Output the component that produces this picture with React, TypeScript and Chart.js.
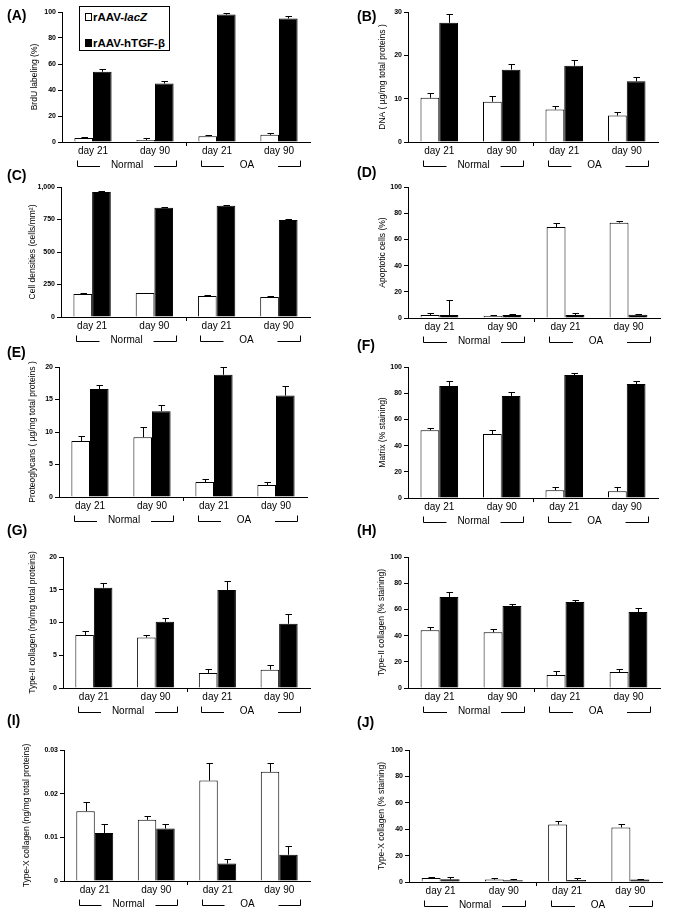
import React, { useEffect, useRef } from 'react';
import { Chart, registerables } from 'chart.js';

Chart.register(...registerables);

const FONT = '"Liberation Sans", Arial, Helvetica, sans-serif';

const categories = ['day 21', 'day 90', 'day 21', 'day 90'];
const groups = ['Normal', 'OA'];
const seriesNames = ['rAAV-lacZ', 'rAAV-hTGF-β'];

// (A) BrdU labeling (%)
const brduLacZ = [3, 1.5, 4.5, 5.5];
const brduLacZErr = [1, 1.5, 1, 1.8];
const brduTGF = [54, 45, 98, 95];
const brduTGFErr = [2, 2, 1.5, 2];

// (B) DNA (µg/mg total proteins)
const dnaLacZ = [10.2, 9.3, 7.5, 6.1];
const dnaLacZErr = [1, 1.4, 0.9, 0.9];
const dnaTGF = [27.5, 16.7, 17.6, 14.0];
const dnaTGFErr = [2, 1.4, 1.4, 0.9];

// (C) Cell densities (cells/mm2)
const cellLacZ = [177, 185, 162, 154];
const cellLacZErr = [8, 2, 7, 7];
const cellTGF = [962, 841, 856, 746];
const cellTGFErr = [5, 5, 6, 6];

// (D) Apoptotic cells (%)
const apoLacZ = [2.3, 1.5, 69.5, 72.8];
const apoLacZErr = [1.5, 0.5, 3.3, 1.5];
const apoTGF = [2.3, 2.3, 2.3, 2.5];
const apoTGFErr = [11.7, 0.5, 1.5, 0.6];

// (E) Proteoglycans (µg/mg total proteins)
const pgLacZ = [8.6, 9.2, 2.3, 1.85];
const pgLacZErr = [0.8, 1.5, 0.5, 0.45];
const pgTGF = [16.6, 13.2, 18.8, 15.6];
const pgTGFErr = [0.6, 0.9, 1.2, 1.5];

// (F) Matrix (% staining)
const matLacZ = [51.7, 48.9, 5.9, 5.1];
const matLacZErr = [1.7, 3.3, 2.5, 3.3];
const matTGF = [85.5, 77.9, 93.9, 87];
const matTGFErr = [3.8, 3, 1.5, 2.3];

// (G) Type-II collagen (ng/mg total proteins)
const col2ngLacZ = [8.1, 7.7, 2.3, 2.8];
const col2ngLacZErr = [0.6, 0.45, 0.6, 0.66];
const col2ngTGF = [15.3, 10.1, 14.96, 9.8];
const col2ngTGFErr = [0.8, 0.65, 1.3, 1.5];

// (H) Type-II collagen (% staining)
const col2pLacZ = [44, 42.5, 9.9, 12.2];
const col2pLacZErr = [2.5, 2.5, 3, 2.5];
const col2pTGF = [69.5, 62.6, 65.6, 58];
const col2pTGFErr = [3.8, 1.5, 1.5, 3.3];

// (I) Type-X collagen (ng/mg total proteins)
const col10ngLacZ = [0.016, 0.014, 0.023, 0.025];
const col10ngLacZErr = [0.002, 0.001, 0.004, 0.002];
const col10ngTGF = [0.011, 0.012, 0.004, 0.006];
const col10ngTGFErr = [0.002, 0.001, 0.001, 0.002];

// (J) Type-X collagen (% staining)
const col10pLacZ = [3, 1.8, 43.5, 41.3];
const col10pLacZErr = [0.8, 1.5, 3, 2.3];
const col10pTGF = [2, 1.3, 1.5, 1.8];
const col10pTGFErr = [1.8, 0.7, 1.8, 0.7];

type PanelDef = {
  label: string;
  title: string;
  max: number;
  step: number;
  lacZ: number[];
  lacZErr: number[];
  tgf: number[];
  tgfErr: number[];
  // layout
  colX: number;
  colW: number;
  axisX: number;
  topY: number;
  zeroY: number;
  rightX: number;
  titleX: number;
  labelX: number;
  labelY: number;
};

const panels: PanelDef[] = [
  { label: '(A)', title: 'BrdU labeling (%)', max: 100, step: 20, lacZ: brduLacZ, lacZErr: brduLacZErr, tgf: brduTGF, tgfErr: brduTGFErr,
    colX: 0, colW: 340, axisX: 62, topY: 12, zeroY: 142, rightX: 310, titleX: 35, labelX: 7, labelY: 15 },
  { label: '(B)', title: 'DNA ( µg/mg total proteins )', max: 30, step: 10, lacZ: dnaLacZ, lacZErr: dnaLacZErr, tgf: dnaTGF, tgfErr: dnaTGFErr,
    colX: 340, colW: 333, axisX: 408, topY: 12, zeroY: 142, rightX: 658, titleX: 383, labelX: 357, labelY: 16 },
  { label: '(C)', title: 'Cell densities (cells/mm²)', max: 1000, step: 250, lacZ: cellLacZ, lacZErr: cellLacZErr, tgf: cellTGF, tgfErr: cellTGFErr,
    colX: 0, colW: 340, axisX: 61, topY: 187, zeroY: 317, rightX: 310, titleX: 33, labelX: 7, labelY: 175 },
  { label: '(D)', title: 'Apoptotic cells (%)', max: 100, step: 20, lacZ: apoLacZ, lacZErr: apoLacZErr, tgf: apoTGF, tgfErr: apoTGFErr,
    colX: 340, colW: 333, axisX: 408, topY: 187, zeroY: 318, rightX: 660, titleX: 383, labelX: 357, labelY: 172 },
  { label: '(E)', title: 'Proteoglycans ( µg/mg total proteins )', max: 20, step: 5, lacZ: pgLacZ, lacZErr: pgLacZErr, tgf: pgTGF, tgfErr: pgTGFErr,
    colX: 0, colW: 340, axisX: 59, topY: 367, zeroY: 497, rightX: 307, titleX: 33, labelX: 7, labelY: 352 },
  { label: '(F)', title: 'Matrix (% staining)', max: 100, step: 20, lacZ: matLacZ, lacZErr: matLacZErr, tgf: matTGF, tgfErr: matTGFErr,
    colX: 340, colW: 333, axisX: 408, topY: 367, zeroY: 498, rightX: 658, titleX: 383, labelX: 357, labelY: 345 },
  { label: '(G)', title: 'Type-II collagen (ng/mg total proteins)', max: 20, step: 5, lacZ: col2ngLacZ, lacZErr: col2ngLacZErr, tgf: col2ngTGF, tgfErr: col2ngTGFErr,
    colX: 0, colW: 340, axisX: 63, topY: 557, zeroY: 688, rightX: 310, titleX: 33, labelX: 7, labelY: 530 },
  { label: '(H)', title: 'Type-II collagen (% staining)', max: 100, step: 20, lacZ: col2pLacZ, lacZErr: col2pLacZErr, tgf: col2pTGF, tgfErr: col2pTGFErr,
    colX: 340, colW: 333, axisX: 408, topY: 557, zeroY: 688, rightX: 660, titleX: 382, labelX: 357, labelY: 530 },
  { label: '(I)', title: 'Type-X collagen (ng/mg total proteins)', max: 0.03, step: 0.01, lacZ: col10ngLacZ, lacZErr: col10ngLacZErr, tgf: col10ngTGF, tgfErr: col10ngTGFErr,
    colX: 0, colW: 340, axisX: 64, topY: 750, zeroY: 881, rightX: 310, titleX: 27, labelX: 7, labelY: 720 },
  { label: '(J)', title: 'Type-X collagen (% staining)', max: 100, step: 20, lacZ: col10pLacZ, lacZErr: col10pLacZErr, tgf: col10pTGF, tgfErr: col10pTGFErr,
    colX: 340, colW: 333, axisX: 409, topY: 750, zeroY: 882, rightX: 662, titleX: 382, labelX: 357, labelY: 722 },
];

const TOP_PAD = 10;
const BOTTOM_H = 32;

const errorBarPlugin = {
  id: 'errorBars',
  afterDatasetsDraw(chart: any) {
    const { ctx } = chart;
    const yScale = chart.scales.y;
    chart.data.datasets.forEach((ds: any, di: number) => {
      const meta = chart.getDatasetMeta(di);
      meta.data.forEach((bar: any, i: number) => {
        const v = ds.data[i];
        const e = ds.errors ? ds.errors[i] : 0;
        if (!e) return;
        const yTop = Math.round(yScale.getPixelForValue(v + e)) + 0.5;
        const x = Math.round(bar.x) + 0.5;
        ctx.save();
        ctx.strokeStyle = '#000';
        ctx.lineWidth = 1;
        ctx.beginPath();
        ctx.moveTo(x, bar.y);
        ctx.lineTo(x, yTop);
        ctx.moveTo(x - 3, yTop);
        ctx.lineTo(x + 3.5, yTop);
        ctx.stroke();
        ctx.restore();
      });
    });
  },
};

const bracketPlugin = {
  id: 'groupBrackets',
  afterDraw(chart: any) {
    const { ctx, chartArea } = chart;
    const xs = chart.scales.x;
    const px = (i: number) => xs.getPixelForValue(i);
    const cw = px(1) - px(0);
    const b = chartArea.bottom;
    ctx.save();
    ctx.strokeStyle = '#000';
    ctx.lineWidth = 1;
    // single tick between the two groups
    const mid = Math.round((px(1) + px(2)) / 2) + 0.5;
    ctx.beginPath();
    ctx.moveTo(mid, b);
    ctx.lineTo(mid, b + 4);
    ctx.stroke();
    const yTop = Math.round(b + 18) + 0.5;
    const yLine = Math.round(b + 24) + 0.5;
    ctx.font = `10px ${FONT}`;
    ctx.fillStyle = '#000';
    ctx.textAlign = 'center';
    ctx.textBaseline = 'middle';
    groups.forEach((g, gi) => {
      const l = Math.round(px(gi * 2) - 0.26 * cw) + 0.5;
      const r = Math.round(px(gi * 2 + 1) + 0.34 * cw) + 0.5;
      const c = (l + r) / 2;
      const gap = 27;
      ctx.beginPath();
      ctx.moveTo(l, yTop);
      ctx.lineTo(l, yLine);
      ctx.lineTo(c - gap, yLine);
      ctx.moveTo(c + gap, yLine);
      ctx.lineTo(r, yLine);
      ctx.lineTo(r, yTop);
      ctx.stroke();
      ctx.fillText(g, c - (gi === 1 ? 4 : 0), yLine - 1);
    });
    ctx.restore();
  },
};

function formatTick(v: number | string) {
  const n = Number(v);
  return n.toLocaleString('en-US', { maximumFractionDigits: 3 });
}

function Panel({ p }: { p: PanelDef }) {
  const ref = useRef<HTMLCanvasElement>(null);
  const width = p.colW;
  const height = p.zeroY - p.topY + TOP_PAD + BOTTOM_H;
  useEffect(() => {
    if (!ref.current) return;
    const chart = new Chart(ref.current, {
      type: 'bar',
      data: {
        labels: categories,
        datasets: [
          {
            label: seriesNames[0],
            data: p.lacZ,
            errors: p.lacZErr,
            backgroundColor: '#ffffff',
            borderColor: '#000000',
            borderWidth: 1,
          } as any,
          {
            label: seriesNames[1],
            data: p.tgf,
            errors: p.tgfErr,
            backgroundColor: '#000000',
            borderColor: '#000000',
            borderWidth: 1,
          } as any,
        ],
      },
      options: {
        animation: false,
        responsive: false,
        devicePixelRatio: 1,
        layout: {
          padding: { left: 0, top: TOP_PAD, right: p.colX + width - p.rightX, bottom: 0 },
        },
        datasets: { bar: { categoryPercentage: 0.6, barPercentage: 1 } },
        plugins: {
          legend: { display: false },
          tooltip: { enabled: false },
        },
        scales: {
          x: {
            grid: { display: false, drawTicks: false },
            border: { display: true, color: '#000', width: 1 },
            ticks: { color: '#000', font: { family: FONT, size: 10 }, padding: 3, maxRotation: 0, autoSkip: false },
            afterFit: (s: any) => { s.height = BOTTOM_H; },
          },
          y: {
            min: 0,
            max: p.max,
            ticks: {
              stepSize: p.step,
              color: '#000',
              font: { family: FONT, size: 7, weight: 'bold' },
              padding: 2,
              callback: (v: any) => formatTick(v),
            },
            grid: { drawOnChartArea: false, drawTicks: true, tickLength: 4, color: '#000' },
            border: { display: true, color: '#000', width: 1 },
            title: {
              display: true,
              text: p.title,
              color: '#000',
              font: { family: FONT, size: 8.5 },
              padding: { top: p.titleX - p.colX - 5.1, bottom: 0 },
            },
            afterFit: (s: any) => { s.width = p.axisX - p.colX; },
          },
        },
      } as any,
      plugins: [errorBarPlugin, bracketPlugin],
    });
    return () => chart.destroy();
  }, []);
  return (
    <canvas
      ref={ref}
      width={width}
      height={height}
      style={{ position: 'absolute', left: p.colX, top: p.topY - TOP_PAD, width, height, zIndex: 1 }}
    />
  );
}

function Legend() {
  const item: React.CSSProperties = {
    position: 'absolute',
    left: 5,
    height: 14,
    lineHeight: '14px',
    display: 'flex',
    alignItems: 'center',
    whiteSpace: 'nowrap',
  };
  return (
    <div
      style={{
        position: 'absolute',
        left: 79,
        top: 6,
        width: 91,
        height: 45,
        border: '1px solid #000',
        background: '#fff',
        font: `bold 11.5px ${FONT}`,
        color: '#000',
        zIndex: 3,
        boxSizing: 'border-box',
      }}
    >
      <div style={{ ...item, top: 3 }}>
        <span style={{ display: 'inline-block', width: 5, height: 6, border: '1px solid #000', background: '#fff', marginRight: 1 }} />
        <span>rAAV-<i>lacZ</i></span>
      </div>
      <div style={{ ...item, top: 29 }}>
        <span style={{ display: 'inline-block', width: 7, height: 8, background: '#000', marginRight: 1 }} />
        <span>rAAV-hTGF-β</span>
      </div>
    </div>
  );
}

export default function App() {
  return (
    <div style={{ position: 'absolute', left: 0, top: 0, width: 673, height: 919, background: '#fff', overflow: 'hidden' }}>
      {panels.map((p) => (
        <React.Fragment key={p.label}>
          <Panel p={p} />
          <div
            style={{
              position: 'absolute',
              left: p.labelX,
              top: p.labelY - 8,
              font: `bold 14px ${FONT}`,
              lineHeight: '16px',
              color: '#000',
              zIndex: 2,
            }}
          >
            {p.label}
          </div>
        </React.Fragment>
      ))}
      <Legend />
    </div>
  );
}
